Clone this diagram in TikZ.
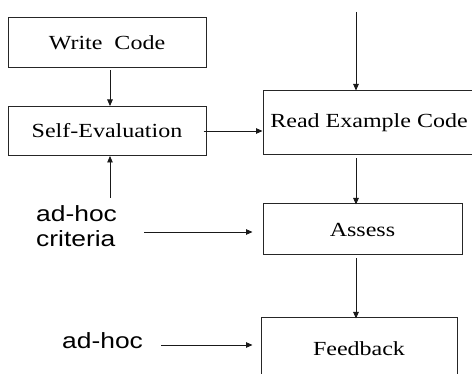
\documentclass[tikz,border=0pt]{standalone}
\usepackage{fontspec}
\setmainfont{Liberation Serif}
\newfontfamily\arialfont{Liberation Sans}
\usetikzlibrary{arrows.meta,calc}
\newcommand{\bxt}[1]{\scalebox{1.2}[1]{#1}}
\tikzset{
  box/.style={draw=black!85, line width=1pt, rectangle, inner sep=0pt,
    font=\fontsize{20}{24}\selectfont},
  arr/.style={draw=black!90, line width=0.9pt, -{Triangle[length=6.5pt,width=5.5pt]}},
  lbl/.style={inner sep=0pt, font=\arialfont\fontsize{22}{25}\selectfont}
}
\begin{document}
\begin{tikzpicture}[x=1pt,y=1pt]
\useasboundingbox (0,0) rectangle (472,-374);
\clip (0,0) rectangle (472,-374);
\fill[white] (0,0) rectangle (472,-374);
\node[box, minimum width=198, minimum height=50] (wc) at (107,-43) {\bxt{Write~ Code}};
\node[box, minimum width=198, minimum height=49] (se) at (107,-131) {\bxt{Self-Evaluation}};
\node[box, minimum width=212, minimum height=64] (rec) at (369,-123) {\bxt{Read Example Code}};
\node[box, minimum width=199, minimum height=51] (as) at (362.5,-229.5) {\bxt{Assess}};
\node[box, minimum width=196, minimum height=62] (fb) at (359,-349) {\bxt{Feedback}};
\node[lbl, anchor=west] (crit) at (36,-229.5) {\scalebox{1.2}[1]{\begin{tabular}{@{}l@{}}ad-hoc\\criteria\end{tabular}}};
\node[lbl, anchor=base west] (adhoc) at (62,-349) {\scalebox{1.2}[1]{ad-hoc}};
\coordinate (top) at (356,-12);
\coordinate (critup) at (110,-198);
% connectors
\draw[arr] ($(wc.south)+(3,-2)$) -- ($(se.north)+(3,0)$);
\draw[arr] (critup) -- (critup |- se.south);
\draw[arr] ([xshift=-3pt]se.east) -- (se.east -| rec.west);
\draw[arr] (top) -- (top |- rec.north);
\draw[arr] ($(top |- rec.south)+(0,-3)$) -- ($(top |- as.north)+(0,-1)$);
\draw[arr] ($(top |- as.south)+(0,-3)$) -- ($(top |- fb.north)+(0,-1)$);
\draw[arr] ($(crit.east |- 0,-232)+(27,0)$) -- ($(as.west |- 0,-232)+(-10,0)$);
\draw[arr] ($(adhoc.east |- 0,-345)+(18,0)$) -- ($(fb.west |- 0,-345)+(-8,0)$);
\end{tikzpicture}
\end{document}
